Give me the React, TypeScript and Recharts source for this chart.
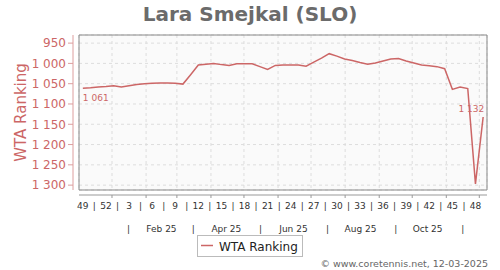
import React from 'react';
import { LineChart, Line, XAxis, YAxis, CartesianGrid, Legend, ReferenceArea, Label } from 'recharts';

// ---- data ----
const weeks = [49, 50, 51, 52, 1, 2, 3, 4, 5, 6, 7, 8, 9, 10, 11, 12, 13, 14, 15, 16, 17, 18, 19, 20, 21, 22, 23, 24, 25, 26, 27, 28, 29, 30, 31, 32, 33, 34, 35, 36, 37, 38, 39, 40, 41, 42, 43, 44, 45, 46, 47, 48, 49];
const ranks = [1061, 1060, 1058, 1057, 1055, 1058, 1055, 1052, 1050, 1049, 1048, 1048, 1049, 1051, 1028, 1004, 1002, 1000, 1003, 1005, 1001, 1001, 1001, 1008, 1015, 1005, 1004, 1004, 1004, 1007, 997, 987, 976, 982, 989, 993, 998, 1002, 999, 994, 989, 988, 994, 999, 1004, 1006, 1008, 1013, 1064, 1058, 1062, 1297, 1132];
const yTicks = [950, 1000, 1050, 1100, 1150, 1200, 1250, 1300];
const yDomain = [930, 1312];
const monthLabels = ['Feb 25', 'Apr 25', 'Jun 25', 'Aug 25', 'Oct 25'];
const monthLabelMonths = [1, 3, 5, 7, 9];
const monthSepMonths = [0, 2, 4, 6, 8, 10];
const seriesName = 'WTA Ranking';
const title = 'Lara Smejkal (SLO)';
const credit = '© www.coretennis.net, 12-03-2025';

const DAY = 86400000;
const WEEK = 7 * DAY;
const firstDate = Date.UTC(2024, 11, 5, 12);
const data = ranks.map((r, i) => ({ t: firstDate + i * WEEK, week: weeks[i], rank: r }));
const xDomain = [data[0].t - 3.5 * DAY, data[data.length - 1].t + 3.5 * DAY];

const monthStarts = Array.from({ length: 12 }, (_, m) => Date.UTC(2025, m, 1));

const weekLabelTicks = data.filter((_, i) => i % 3 === 0).map((d) => d.t);
const weekSepTicks = weekLabelTicks.slice(0, -1).map((t, i) => (t + weekLabelTicks[i + 1]) / 2);
const weekLabelMap = new Map(data.map((d) => [d.t, String(d.week)]));
const weekTicks = [...weekLabelTicks, ...weekSepTicks].sort((a, b) => a - b);

const monthLabelTicks = monthLabelMonths.map((m) => Date.UTC(2025, m, 15));
const monthSepTicks = monthSepMonths.map((m) => Date.UTC(2025, m, 16));
const monthLabelMap = new Map(monthLabelTicks.map((t, i) => [t, monthLabels[i]]));
const monthTicks = [...monthLabelTicks, ...monthSepTicks].sort((a, b) => a - b);

const FONT = 'DejaVu Sans';
const RED = '#cc6666';
const AXIS_RED = '#dd9e9e';

const fmt = (v: number) => (v >= 1000 ? `${Math.floor(v / 1000)} ${String(v % 1000).padStart(3, '0')}` : String(v));

const renderPointLabel = (props: any) => {
  const { x, y, index, value } = props;
  if (index === 0) {
    return (
      <text key="l0" x={x} y={y + 12.5} textAnchor="start" fontSize={9} fontFamily={FONT} fill={RED}>
        {fmt(value)}
      </text>
    );
  }
  if (index === data.length - 1) {
    return (
      <text key="ll" x={x + 1} y={y - 4.5} textAnchor="end" fontSize={9} fontFamily={FONT} fill={RED}>
        {fmt(value)}
      </text>
    );
  }
  return <g key={`e${index}`} />;
};

const renderLegend = (props: any) => {
  const { payload } = props;
  return (
    <svg width={107} height={23} style={{ display: 'block' }}>
      <rect x={0.5} y={0.5} width={105} height={21} fill="#ffffff" stroke="#bbbbbb" />
      {(payload || []).map((p: any, i: number) => (
        <g key={i}>
          <line x1={4} x2={16} y1={10.5} y2={10.5} stroke={p.color} strokeWidth={1.5} />
          <text x={22} y={15.5} fontSize={12} fontFamily={FONT} fill="#222">
            {p.value}
          </text>
        </g>
      ))}
    </svg>
  );
};

const emptyTick = (p: any) => <g key={`t${p.index}`} />;

export default function App() {
  return (
    <div style={{ position: 'absolute', left: 0, top: 0, width: 500, height: 270, background: '#fff' }}>
      <LineChart width={500} height={270} data={data} margin={{ top: 35, right: 13, left: 0, bottom: 31 }}>
        <XAxis xAxisId="a_pad" dataKey="t" type="number" domain={xDomain} height={5} tick={emptyTick} axisLine={false} tickLine={false} />
        <XAxis
          xAxisId="b_m"
          dataKey="t"
          type="number"
          domain={xDomain}
          ticks={monthStarts}
          interval={0}
          height={1}
          tick={emptyTick}
          tickSize={3}
          axisLine={{ stroke: '#999' }}
          tickLine={{ stroke: '#999' }}
        />
        <XAxis
          xAxisId="c_w"
          dataKey="t"
          type="number"
          domain={xDomain}
          ticks={weekTicks}
          interval={0}
          height={18}
          axisLine={false}
          tickLine={false}
          tickSize={5}
          tickMargin={2}
          tickFormatter={(v: number) => weekLabelMap.get(v) ?? '|'}
          tick={{ fontSize: 9, fontFamily: FONT, fill: '#333' }}
        />
        <XAxis
          xAxisId="d_mo"
          dataKey="t"
          type="number"
          domain={xDomain}
          ticks={monthTicks}
          interval={0}
          height={25}
          axisLine={false}
          tickLine={false}
          tickSize={6}
          tickMargin={5.6}
          tickFormatter={(v: number) => monthLabelMap.get(v) ?? '|'}
          tick={{ fontSize: 9, fontFamily: FONT, fill: '#333' }}
        />
        <YAxis yAxisId="a_pad" width={6} domain={yDomain} tick={emptyTick} axisLine={false} tickLine={false} />
        <YAxis
          yAxisId="b_main"
          type="number"
          width={73}
          domain={yDomain}
          reversed
          ticks={yTicks}
          interval={0}
          tickSize={5}
          tickMargin={2}
          axisLine={{ stroke: AXIS_RED }}
          tickLine={{ stroke: AXIS_RED }}
          tickFormatter={fmt}
          tick={{ fontSize: 12, fontFamily: FONT, fill: RED }}
        >
          <Label
            content={(p: any) => {
              const vb = p.viewBox || { x: 0, y: 35, height: 155 };
              const cx = vb.x + 26;
              const cy = vb.y + vb.height / 2;
              return (
                <text x={cx} y={cy} transform={`rotate(-90 ${cx} ${cy})`} textAnchor="middle" fontSize={15} fontFamily={FONT} fill={RED}>
                  {seriesName}
                </text>
              );
            }}
          />
        </YAxis>
        <CartesianGrid xAxisId="b_m" yAxisId="b_main" strokeDasharray="3 3" stroke="#dddddd" fill="#fafafa" />
        <ReferenceArea xAxisId="c_w" yAxisId="b_main" x1={xDomain[0]} x2={xDomain[1]} y1={yDomain[0]} y2={yDomain[1]} fill="none" stroke="#888" ifOverflow="visible" />
        <Line
          xAxisId="c_w"
          yAxisId="b_main"
          type="linear"
          dataKey="rank"
          name={seriesName}
          stroke={RED}
          strokeWidth={1.5}
          dot={false}
          isAnimationActive={false}
          label={renderPointLabel}
        />
        <Legend
          verticalAlign="middle"
          align="center"
          layout="horizontal"
          wrapperStyle={{ position: 'absolute', left: 197, top: 235, width: 'auto', height: 'auto' }}
          content={renderLegend}
        />
      </LineChart>
      <svg width={500} height={270} style={{ position: 'absolute', left: 0, top: 0, pointerEvents: 'none' }}>
        <text x={250} y={21} textAnchor="middle" fontSize={20} fontWeight="bold" fontFamily={FONT} fill="#6b6b6b">
          {title}
        </text>
        <text x={488} y={266.5} textAnchor="end" fontSize={9.5} fontFamily={FONT} fill="#666">
          {credit}
        </text>
      </svg>
    </div>
  );
}
